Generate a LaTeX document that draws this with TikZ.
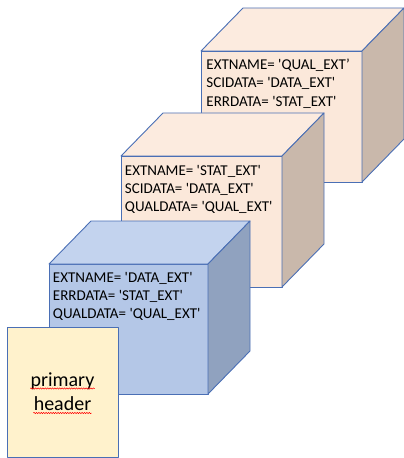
\documentclass[tikz,border=0pt]{standalone}
\usepackage{fontspec}
\newfontfamily\calibri{Carlito}
\usetikzlibrary{decorations.pathmorphing}
\definecolor{edge}{HTML}{4A6FB5}
\definecolor{frontpeach}{HTML}{FBE8DA}
\definecolor{toppeach}{HTML}{FCEBDF}
\definecolor{sidepeach}{HTML}{C9B8AB}
\definecolor{frontblue}{HTML}{B4C7E7}
\definecolor{topblue}{HTML}{C3D3EE}
\definecolor{sideblue}{HTML}{90A2BF}
\definecolor{headerfill}{HTML}{FFF2CC}
\begin{document}
\begin{tikzpicture}[x=1bp, y=-1bp, line width=0.9bp, line join=round,
    face/.style={draw=edge},
    keys/.style={anchor=north west, inner sep=0, align=left, font=\calibri\fontsize{15bp}{18.3bp}\selectfont},
    big/.style={anchor=base, inner sep=0, font=\calibri\fontsize{20bp}{24bp}\selectfont},
    spell/.style={red, line width=0.5bp, decorate, decoration={snake, amplitude=0.7bp, segment length=2.4bp}}]
  \useasboundingbox (0,0) rectangle (403,458);
  \foreach \xa/\ya/\xb/\yb/\col in {201/51/362/182/peach, 121/156/282/287/peach, 49/264/208/394/blue}{
    \filldraw[face, fill=front\col] (\xa,\ya) rectangle (\xb,\yb);
    \filldraw[face, fill=top\col] (\xa,\ya) -- ++(42,-43) -- ++(\xb-\xa,0) -- (\xb,\ya) -- cycle;
    \filldraw[face, fill=side\col] (\xb,\ya) -- ++(42,-43) -- ++(0,\yb-\ya) -- (\xb,\yb) -- cycle;
  }
  \node [keys] (qual) at (206,58.5) {EXTNAME= 'QUAL\_EXT’\\SCIDATA= 'DATA\_EXT'\\ERRDATA= 'STAT\_EXT'};
  \node [keys] (stat) at (124.5,164.5) {EXTNAME= 'STAT\_EXT'\\SCIDATA= 'DATA\_EXT'\\QUALDATA= 'QUAL\_EXT'};
  \node [keys] (data) at (52.5,271.5) {EXTNAME= 'DATA\_EXT'\\ERRDATA= 'STAT\_EXT'\\QUALDATA= 'QUAL\_EXT'};
  \filldraw[face, fill=headerfill] (7,327) rectangle (118,457);
  \node [big] (prim) at (62.5,386) {primary};
  \node [big] (head) at (62.5,410) {header};
  \draw [spell] ([yshift=-2.5bp]prim.base west) -- ([yshift=-2.5bp]prim.base east);
  \draw [spell] ([yshift=-3bp]head.base west) -- ([yshift=-3bp]head.base east);
\end{tikzpicture}
\end{document}
